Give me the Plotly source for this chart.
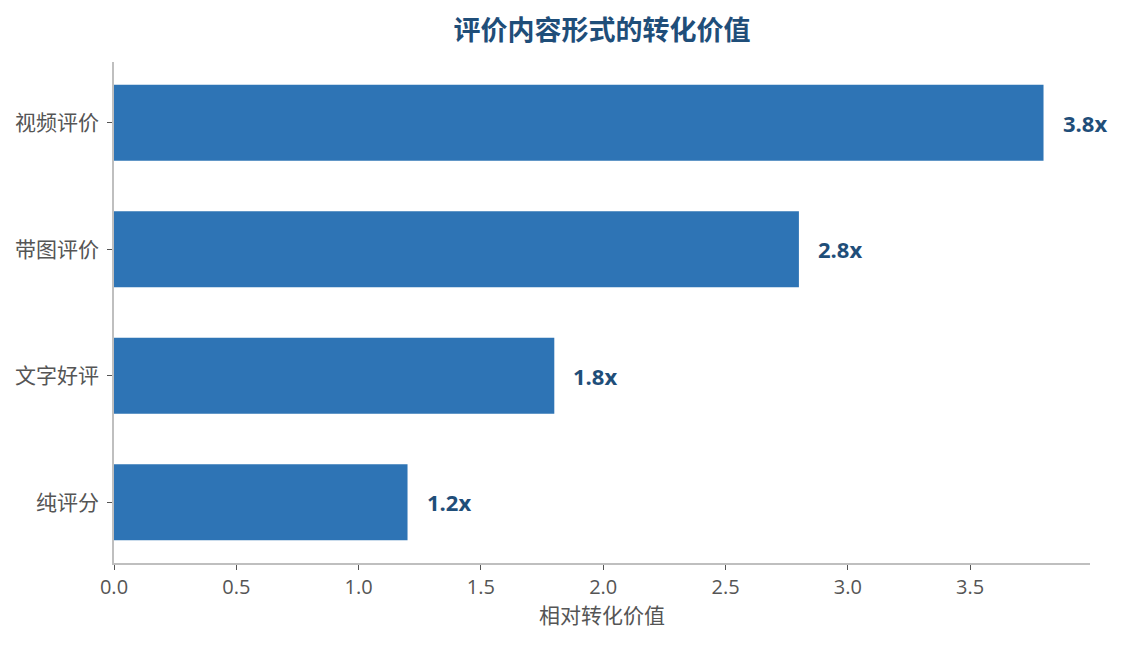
import plotly.graph_objects as go

# review formats, bottom to top
categories = ['纯评分', '文字好评', '带图评价', '视频评价']
values = [1.2, 1.8, 2.8, 3.8]
value_labels = ['1.2x', '1.8x', '2.8x', '3.8x']
x_ticks = [0.0, 0.5, 1.0, 1.5, 2.0, 2.5, 3.0, 3.5]

font_family = 'Open Sans, Noto Sans CJK SC, sans-serif'
bar_color = '#2e74b5'
dark_blue = '#1f4e79'
gray_text = '#555555'
axis_gray = '#bfbfbf'


def main():
    fig = go.Figure()
    fig.add_trace(go.Bar(x=values, y=categories, orientation='h',
                         width=0.6, marker_color=bar_color,
                         marker_line_width=0))

    # value labels to the right of each bar
    for cat, val, lab in zip(categories, values, value_labels):
        fig.add_annotation(x=val, y=cat, text='<b>' + lab + '</b>',
                           showarrow=False, xanchor='left', xshift=17,
                           font=dict(size=22, color=dark_blue,
                                     family=font_family))

    fig.update_layout(
        width=1122, height=645,
        margin=dict(l=114, r=32, t=62, b=82),
        paper_bgcolor='white', plot_bgcolor='white',
        font=dict(family=font_family, color=gray_text, size=20),
        title=dict(text='<b>评价内容形式的转化价值</b>', x=0.5, y=0.953,
                   xref='paper', xanchor='center', yanchor='middle',
                   font=dict(size=27, color=dark_blue, family=font_family)),
        showlegend=False,
    )
    fig.update_xaxes(range=[0, 3.99], tickvals=x_ticks,
                     ticktext=['%.1f' % t for t in x_ticks],
                     showgrid=False, zeroline=False,
                     showline=True, linecolor=axis_gray, linewidth=1.5,
                     ticks='outside', ticklen=5, tickcolor=gray_text,
                     tickfont=dict(size=20, color=gray_text),
                     title=dict(text='相对转化价值', standoff=10,
                                font=dict(size=21, color=gray_text)))
    fig.update_yaxes(range=[-0.48, 3.48], showgrid=False, zeroline=False,
                     showline=True, linecolor=axis_gray, linewidth=1.5,
                     ticks='outside', ticklen=5, tickcolor=gray_text,
                     ticklabelstandoff=4,
                     tickfont=dict(size=21, color=gray_text))

    fig.write_html('out.html', config={'displayModeBar': False},
                   post_script="document.body.style.margin='0px';")


if __name__ == '__main__':
    main()
